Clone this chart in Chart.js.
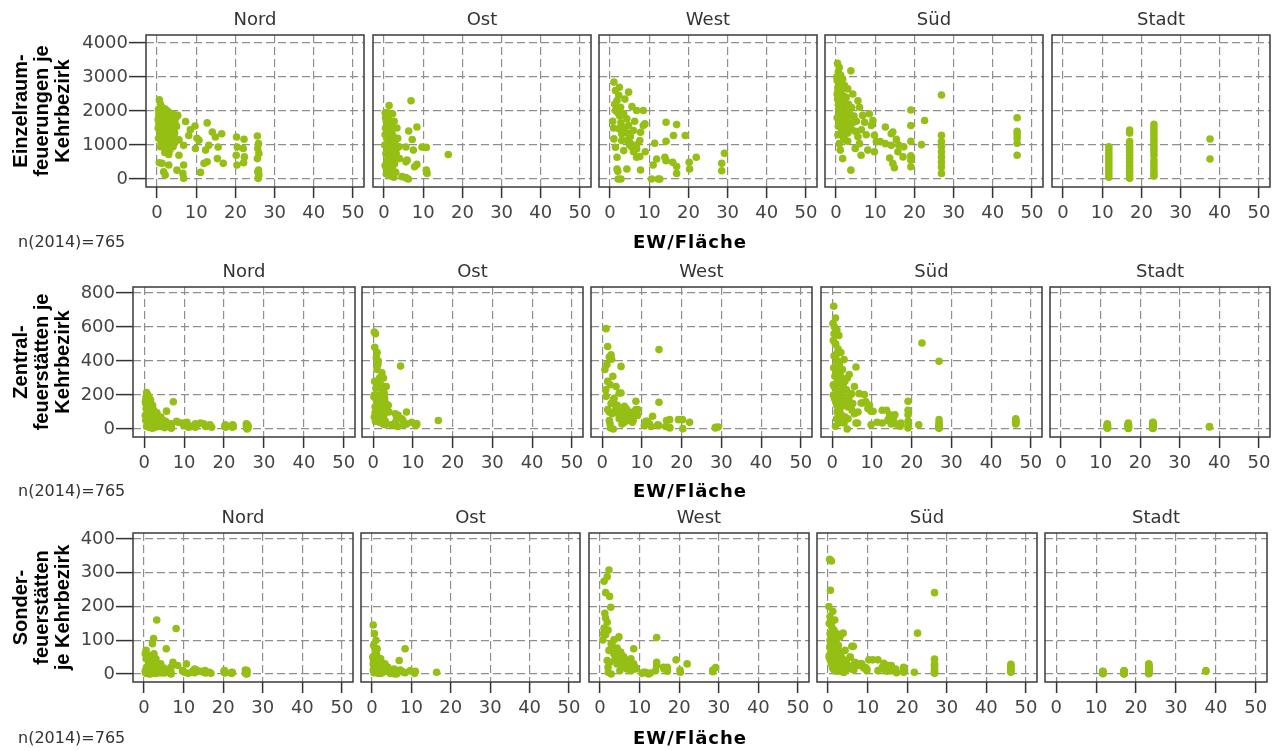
<!DOCTYPE html>
<html>
<head>
<meta charset="utf-8">
<script src="https://cdn.jsdelivr.net/npm/chart.js@4.4.1/dist/chart.umd.min.js"></script>
<style>
  body { margin: 0; background: #fff; width: 1274px; height: 751px; position: relative; overflow: hidden; }
  canvas { position: absolute; }
  .note { position: absolute; font-family: "DejaVu Sans", sans-serif; color: #333; font-size: 16px; transform: translateY(-50%); white-space: nowrap; }
  .xtitle { position: absolute; font-family: "DejaVu Sans", sans-serif; font-weight: bold; font-size: 18px; letter-spacing: 1px; color: #000; transform: translate(-50%, -50%); white-space: nowrap; }
</style>
</head>
<body>
<script>
// Bezirke (Spalten) und Achsen
const regions = ['Nord', 'Ost', 'West', 'Süd', 'Stadt'];
const xTicks = [0, 10, 20, 30, 40, 50];
const einzelTicks = [0, 1000, 2000, 3000, 4000];
const zentralTicks = [0, 200, 400, 600, 800];
const sonderTicks = [0, 100, 200, 300, 400];

// Nord: EW/Fläche und Feuerstätten je Kehrbezirk
const nordX = [0.6,0.9,0.4,1.2,0.5,1.6,2.1,0.8,1.4,0.3, 2.4,2.0,2.8,3.2,3.6,4.2,4.8,5.3,0.7,1.1, 1.8,2.5,3.0,3.5,4.0,4.5,5.0,0.4,1.0,1.5, 2.2,2.9,3.4,3.9,4.4,5.6,0.9,1.7,2.6,3.3, 4.1,2.0,3.0,0.6,1.3,1.7,2.1,3.0,5.6,6.8, 7.3,8.1,6.8,6.6,6.8,5.1,9.7,9.8,10.7,11.1, 12.0,12.4,12.8,12.8,13.2,14.1,14.9,15.4,15.6,16.5, 16.9,8.5,10.2,20.3,20.5,20.2,20.4,22.2,22.0,22.3, 22.1,25.6,25.9,25.7,26.0,25.6,25.9,25.7,26.0,25.8, 1.9,2.7,3.8,4.6,1.3,3.1,2.3,4.3,0.5,1.0, 0.3,0.7,1.1,1.5,1.9,2.3,2.7,3.1,3.5,3.9, 4.3,0.5,1.3,2.1,2.9];
const nordEinzel = [2330,2200,2050,1950,1850,1900,2060,1700,1600,1500, 1750,1550,1850,1950,1700,1900,1800,1870,1400,1300, 1350,1450,1550,1400,1500,1350,1550,1200,1100,1200, 1150,1250,1100,1200,1050,1150,950,1000,900,850, 950,780,720,480,460,215,120,410,700,990, 1690,1280,410,165,20,260,1560,895,1140,195, 460,850,1650,505,990,1380,1235,600,940,1330, 460,1450,1200,1235,940,700,410,1170,895,650, 480,1265,1040,895,750,600,260,215,117,20, 1650,1600,1800,1650,1800,1300,1000,1250,1650,1450, 1750,1550,1650,1450,1850,1300,2000,1650,1900,1600, 1450,1950,2100,1250,1050];
const nordZentral = [215,200,150,190,120,170,140,100,130,80, 110,90,75,95,60,70,50,45,60,140, 75,55,85,40,65,35,30,50,35,110, 45,30,50,25,30,105,25,20,40,20, 15,30,18,15,10,8,5,12,40,30, 160,45,10,15,5,8,35,25,40,10, 15,20,30,10,25,35,30,15,20,25, 10,40,20,25,20,15,10,25,20,15, 10,30,25,20,18,15,10,5,8,0, 120,65,55,40,160,45,30,25,180,95, 160,140,120,100,85,70,60,50,45,40, 35,190,150,30,25];
const nordSonder = [20,45,10,30,5,55,90,15,25,8, 105,40,35,160,20,30,15,10,12,50, 18,60,45,25,12,8,18,3,10,30, 5,15,22,6,10,75,5,12,8,30, 4,6,2,2,0,1,3,2,12,20, 35,135,5,2,0,3,10,8,30,2, 5,10,15,4,12,8,6,10,3,5, 2,25,5,10,5,8,3,5,3,4, 2,12,8,5,10,3,6,2,0,1, 35,28,18,10,40,20,10,7,45,22, 60,50,40,30,25,20,15,10,8,6, 4,70,55,3,2];

// Ost
const ostX = [0.3,0.6,1.0,1.3,0.9,2.2,2.6,0.4,1.2,1.8, 0.7,2.4,1.5,0.2,2.9,0.9,1.9,3.2,3.8,0.5, 1.4,2.3,0.8,1.7,2.7,0.3,1.1,2.0,0.6,1.6, 2.5,3.0,1.0,2.0,3.5,6.9,8.4,6.3,7.2,5.6, 7.5,9.7,10.8,16.4,5.9,5.6,8.4,7.8,10.8,11.0, 5.6,6.2,4.6,4.0,3.3, 0.4,0.8,1.2,1.6,2.0,2.4,2.8,0.3,0.7,1.1, 1.5,1.9,2.3,2.7,0.5,1.0,1.4,1.8,2.2,3.1];
const ostEinzel = [1950,1700,1850,2160,1950,1920,1700,1500,1400,1300, 1200,1150,1050,1000,1000,900,850,900,950,750, 700,650,550,500,450,400,300,250,150,100, 50,200,1600,1550,1200,2300,1530,1410,1160,940, 850,940,930,720,555,505,430,360,260,165, 40,0,70,600,1500, 1800,1650,1750,1550,1350,1250,1100,1300,1000,850, 950,700,800,600,350,500,200,400,300,750];
const ostZentral = [570,560,450,400,370,330,300,280,260,250, 240,220,200,190,180,170,160,150,140,130, 120,110,100,90,80,70,60,55,45,40, 30,25,350,200,120,370,100,80,60,90, 50,40,30,50,70,40,30,25,20,30, 20,15,25,100,250, 480,420,380,300,260,230,210,200,180,160, 150,140,120,110,95,85,75,65,55,45];
const ostSonder = [145,120,100,75,60,45,30,40,55,20, 35,25,15,50,10,30,20,12,8,25, 15,5,10,18,6,12,8,3,5,2, 4,7,65,35,15,40,75,10,12,5, 8,10,5,5,3,15,4,6,2,8, 1,0,2,20,30, 85,70,45,38,28,22,18,30,24,16, 12,10,8,6,4,14,3,9,2,11];

// West
const westX = [1.0,1.4,2.25,4.75,1.8,2.7,5.6,6.8,8.5,1.4, 3.5,4.3,4.75,6.0,7.8,8.5,8.9,14.3,17.0,16.2, 19.2,11.4,14.3,1.0,3.0,1.4,3.5,6.8,7.6,6.8, 7.6,1.8,11.9,14.0,14.3,16.0,17.0,17.0,20.2,20.3, 22.0,28.5,28.5,29.2,11.0,1.8,2.0,4.3,7.8,2.1, 2.8,10.6,12.3,12.7,2.25,3.0,4.3,5.6,0.7,5.2, 6.3,9.0,3.8,2.5,5.0, 1.2,2.0,2.8,3.6,4.4,5.2,6.0,6.8,0.9,2.4];
const westEinzel = [2850,2600,2460,2555,2310,2110,2130,2015,2015,2015, 1915,1770,1570,1425,1375,1570,1620,1670,1600,1280, 1280,1050,1110,1180,1130,935,835,885,1130,640, 660,640,590,640,540,490,365,165,490,295, 640,460,245,755,410,295,225,295,265,0, 0,0,0,0,1475,1325,1130,935,1700,1250, 1700,800,2350,1850,1000, 2200,1950,1650,1500,1350,1050,800,1000,1500,2700];
const westZentral = [590,485,437,368,423,310,133,94,163,280, 250,212,212,120,100,114,80,467,55,50, 55,45,157,192,180,114,130,90,70,60, 40,100,30,25,20,15,6,10,55,2, 39,6,10,12,45,50,30,80,50,6, 0,20,15,75,150,100,60,40,350,70, 110,114,140,90,30, 380,260,170,140,110,90,70,50,230,410];
const westSonder = [275,241,308,110,288,198,40,35,75,166, 101,77,60,50,45,30,20,108,20,15, 42,5,35,136,82,116,60,40,25,30, 15,153,2,10,25,20,8,12,12,5, 30,7,12,19,5,40,20,50,10,5, 0,2,0,3,70,90,30,55,101,65, 20,15,45,35,10, 180,130,90,60,45,35,25,15,120,230];

// Süd
const suedX = [0.4,0.85,3.8,0.6,1.2,1.7,0.3,0.9,1.5,2.2, 3.0,0.5,1.1,1.8,2.6,4.3,0.4,1.0,1.6,2.3, 3.2,5.6,6.0,0.7,1.3,2.0,2.8,3.6,4.6,6.8, 8.5,0.3,1.0,1.7,2.5,3.4,4.2,5.2,7.3,9.4, 9.0,0.6,1.4,2.2,3.0,4.0,5.0,6.5,9.8,12.6, 14.1,14.5,15.4,19.1,19.1,22.6,19.1,21.8,26.9,12.6, 14.1,8.1,9.8,13.7,14.5,14.9,17.3,17.1,19.1,19.1, 19.1,3.8,0.85,1.1,1.7,3.0,5.6,6.0,4.9,7.7, 10.3,26.9,26.9,26.9,26.9,26.9,26.9,26.9,26.9,46.2, 46.2,46.2,46.2,46.2,46.2,6.4,2.0,0.5,1.3,2.4, 11.3,16.0,15.8, 0.2,0.5,0.8,1.1,1.4,1.7,2.0,2.3,2.6,2.9, 0.3,0.6,0.9,1.2,1.5,1.8,2.1,2.4,3.3,4.0];
const suedEinzel = [3400,3280,3180,3150,3050,2940,2900,2800,2700,2750, 2650,2600,2500,2450,2400,2500,2350,2250,2200,2150, 2200,2300,2110,2050,1950,1900,1950,1900,1850,1870, 1920,1800,1700,1650,1700,1600,1650,1700,1670,1720, 1575,1550,1450,1400,1350,1450,1400,1450,1285,1530, 1330,1380,1165,2030,1575,1720,1110,1010,2470,1040, 990,850,800,620,455,330,945,650,680,555, 360,260,1040,850,600,1110,1240,1040,900,1300, 1100,1285,1100,950,800,650,500,350,165,1800, 1400,1300,1200,1050,700,700,1200,1300,2600,1600, 1100,1000,800, 3000,2700,2400,2100,1800,2300,2000,1700,1500,1800, 2500,2200,1900,1600,1350,1250,1150,1900,1500,2100];
const suedZentral = [722,653,300,600,580,550,520,500,470,450, 408,430,400,380,350,320,360,340,320,300, 280,250,365,310,290,270,250,230,200,208, 160,260,240,220,200,180,170,150,153,140, 120,200,180,160,140,130,110,100,104,110, 55,84,60,163,110,506,84,25,398,35, 50,202,25,110,45,30,35,16,45,6, 20,0,16,60,35,35,90,35,208,153, 104,55,35,20,6,15,10,25,5,60, 50,40,35,30,45,35,120,250,100,60, 40,30,84, 620,560,500,440,400,360,330,300,270,240, 200,180,160,140,120,100,90,80,70,60];
const suedSonder = [340,335,121,248,186,160,150,140,130,120, 110,100,95,90,85,70,80,75,70,65, 60,50,82,65,60,55,50,45,40,35, 30,55,50,45,40,35,30,25,28,20, 18,40,35,30,25,20,15,12,15,42, 32,25,25,17,20,121,10,5,241,10, 15,30,10,20,12,8,4,15,18,5, 12,5,30,20,10,45,50,15,20,25, 42,44,27,20,7,12,30,5,2,29, 20,12,5,25,8,82,100,120,15,8, 42,25,10, 200,170,150,120,110,100,90,80,70,60, 50,45,40,35,30,25,20,15,10,5];

// Stadt
const stadtX = [11.7,11.7,11.7,11.7,11.7,11.7,11.7,11.7,11.7,11.7, 17.0,17.0,17.0,17.0,17.0,17.0,17.0,17.0,17.0,17.0,17.0,17.0,17.0,17.0, 23.2,23.2,23.2,23.2,23.2,23.2,23.2,23.2,23.2,23.2,23.2,23.2,23.2,23.2,23.2,23.2, 37.5,37.5];
const stadtEinzel = [950,850,750,650,550,450,350,250,150,50, 1440,1350,1100,1000,900,800,700,600,500,400,300,200,100,20, 1610,1500,1400,1300,1200,1100,1000,900,800,700,550,450,350,250,150,90, 1175,590];
const stadtZentral = [25,15,10,20,5,30,12,18,8,22, 30,20,35,10,25,15,5,28,12,18,8,22,3,14, 40,25,35,15,30,10,20,5,38,12,28,18,8,22,32,3, 15,12];
const stadtSonder = [5,3,8,2,6,4,1,7,3,5, 5,8,3,10,2,6,4,1,7,3,9,2,5,0, 30,25,20,15,10,5,28,12,8,3,22,18,6,2,14,1, 10,8];

const regionX = [nordX, ostX, westX, suedX, stadtX];

const measures = [
  { title: ['Einzelraum-', 'feuerungen je', 'Kehrbezirk'], ticks: einzelTicks, min: -235, max: 4235,
    values: [nordEinzel, ostEinzel, westEinzel, suedEinzel, stadtEinzel] },
  { title: ['Zentral-', 'feuerstätten je', 'Kehrbezirk'], ticks: zentralTicks, min: -47, max: 835,
    values: [nordZentral, ostZentral, westZentral, suedZentral, stadtZentral] },
  { title: ['Sonder-', 'feuerstätten', 'je Kehrbezirk'], ticks: sonderTicks, min: -23.7, max: 417.8,
    values: [nordSonder, ostSonder, westSonder, suedSonder, stadtSonder] }
];

// Panelrahmen je Zeile: [oben, unten] und [links, rechts] je Spalte
const rowTops = [[35, 187], [287, 437], [533, 682]];
const rowCols = [
  [[146, 364], [373, 591], [599, 817], [825, 1043], [1052, 1270]],
  [[133, 355], [362, 583], [591, 812], [821, 1042], [1050, 1270]],
  [[133, 353], [361, 580], [589, 809], [817, 1037], [1045, 1267]]
];

const green = '#95bf14';
const gridColor = '#8f8f8f';
const tickFont = { family: '"DejaVu Sans", sans-serif', size: 18 };

const panelFrame = {
  id: 'panelFrame',
  beforeDatasetsDraw(chart, args, opts) {
    const { ctx, chartArea: a } = chart;
    ctx.save();
    ctx.strokeStyle = '#3a3a3a';
    ctx.lineWidth = 1.5;
    ctx.strokeRect(a.left, a.top, a.right - a.left, a.bottom - a.top);
    ctx.fillStyle = '#333';
    ctx.font = '18px "DejaVu Sans", sans-serif';
    ctx.textAlign = 'center';
    ctx.textBaseline = 'middle';
    ctx.fillText(opts.title, (a.left + a.right) / 2, a.top - 15);
    ctx.restore();
  }
};

function makePanel(row, col) {
  const [L, R] = rowCols[row][col];
  const [T, B] = rowTops[row];
  const padX = 16, padTop = 36, axisH = 46;
  const cLeft = col === 0 ? 0 : L - padX;
  const cTop = T - padTop;
  const canvas = document.createElement('canvas');
  canvas.width = R + padX - cLeft;
  canvas.height = B + axisH - cTop;
  canvas.style.left = cLeft + 'px';
  canvas.style.top = cTop + 'px';
  document.body.appendChild(canvas);

  const m = measures[row];
  const ys = m.values[col];
  const points = regionX[col].map((x, i) => ({ x: x, y: ys[i] }));

  new Chart(canvas, {
    type: 'scatter',
    data: {
      datasets: [{
        data: points,
        backgroundColor: green,
        borderWidth: 0,
        pointRadius: 3.8,
        pointHoverRadius: 3.8
      }]
    },
    options: {
      responsive: false,
      animation: false,
      events: [],
      layout: { padding: { left: col === 0 ? 0 : padX, right: padX, top: padTop, bottom: 0 } },
      plugins: {
        legend: { display: false },
        tooltip: { enabled: false },
        panelFrame: { title: regions[col] }
      },
      scales: {
        x: {
          type: 'linear',
          min: -2.8,
          max: 52.8,
          afterBuildTicks: s => { s.ticks = xTicks.map(v => ({ value: v })); },
          afterFit: s => { s.height = axisH; s.paddingLeft = 0; s.paddingRight = 0; },
          grid: { color: gridColor, lineWidth: 1.2, tickLength: 11, tickColor: '#333', tickWidth: 1.5, tickBorderDash: [] },
          border: { display: false, dash: [8, 4] },
          ticks: { font: tickFont, color: '#444', padding: 5, maxRotation: 0, autoSkip: false, callback: v => String(v) }
        },
        y: {
          type: 'linear',
          min: m.min,
          max: m.max,
          afterBuildTicks: s => { s.ticks = m.ticks.map(v => ({ value: v })); },
          afterFit: s => { s.width = col === 0 ? L : 0; s.paddingTop = 0; s.paddingBottom = 0; },
          grid: { color: gridColor, lineWidth: 1.2, drawTicks: col === 0, tickLength: 17, tickColor: '#333', tickWidth: 1.5, tickBorderDash: [] },
          border: { display: false, dash: [8, 4] },
          ticks: { display: col === 0, font: tickFont, color: '#444', padding: 1, autoSkip: false, callback: v => String(v) },
          title: {
            display: col === 0,
            text: m.title,
            color: '#000',
            font: { family: '"Liberation Sans", Arial, sans-serif', size: 20, weight: 'bold', lineHeight: 1.05 },
            padding: { top: 10.5, bottom: 0 }
          }
        }
      }
    },
    plugins: [panelFrame]
  });
}

for (let r = 0; r < 3; r++) {
  for (let c = 0; c < 5; c++) makePanel(r, c);
}

// Achsenbeschriftung und Fallzahl je Zeile
const labelRows = [241, 490, 737];
labelRows.forEach(y => {
  const n = document.createElement('div');
  n.className = 'note';
  n.style.left = '18px';
  n.style.top = y + 'px';
  n.textContent = 'n(2014)=765';
  document.body.appendChild(n);
  const t = document.createElement('div');
  t.className = 'xtitle';
  t.style.left = '690px';
  t.style.top = y + 'px';
  t.textContent = 'EW/Fläche';
  document.body.appendChild(t);
});
</script>
</body>
</html>
